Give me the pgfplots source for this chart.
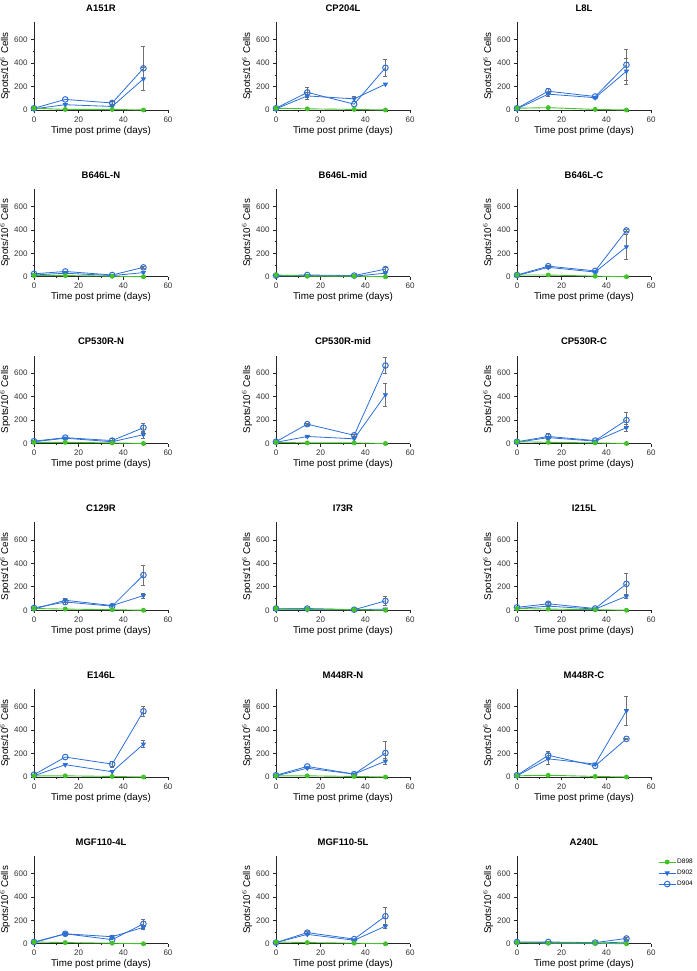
\documentclass[border=0pt]{standalone}
\usepackage{fontspec}
\setmainfont{Liberation Sans}
\usepackage{pgfplots}
\pgfplotsset{compat=1.18}
\definecolor{dgreen}{HTML}{44C12B}
\definecolor{dblue}{HTML}{2C6FD6}
\definecolor{errc}{HTML}{707070}

\pgfplotsset{
  panel/.style={
    scale only axis, width=134pt, height=88pt, anchor=south west,
    xmin=0, xmax=60, ymin=0, ymax=750,
    xtick={0,20,40,60}, ytick={0,200,400,600},
    minor x tick num=1, minor y tick num=1,
    axis lines*=left, axis line style={black!85, line width=0.8pt},
    tick align=outside, major tick length=3pt, minor tick length=1.5pt,
    tick style={black!85, line width=0.6pt},
    ticklabel style={font=\fontsize{8}{9}\selectfont, text=black!80},
    /pgf/number format/assume math mode=true,
    xlabel={Time post prime (days)}, ylabel={Spots/10$^{6}$ Cells},
    label style={font=\fontsize{9.8}{11}\selectfont},
    xlabel style={yshift=3pt}, ylabel style={yshift=-3pt},
    title style={font=\fontsize{9.5}{11}\selectfont\bfseries, yshift=1pt},
    clip=false,
    error bars/y dir=both, error bars/y explicit,
    error bars/error bar style={errc, line width=0.6pt},
    error bars/error mark options={errc, line width=0.6pt, mark size=2pt, rotate=90},
  },
  d898/.style={dgreen, line width=0.9pt, mark=*, mark size=2pt},
  d902/.style={dblue, line width=0.8pt, mark=triangle*, mark size=2.3pt, mark options={rotate=180}},
  d904/.style={dblue, line width=0.8pt, mark=o, mark size=2.8pt, mark options={fill=white, line width=1pt}},
}

% #1 x, #2 y of the axis corner, #3 title, #4 D898, #5 D902, #6 D904
\newcommand{\panel}[6]{%
\begin{axis}[panel, at={(#1pt,-#2pt)}, title={#3}]
\addplot[d904] coordinates {#6};
\addplot[d902] coordinates {#5};
\addplot[d898] coordinates {#4};
\end{axis}}

\begin{document}
\begin{tikzpicture}
\path[use as bounding box] (0,0) rectangle (696pt,-971pt);
% row 1
\panel{34}{110}{A151R}
 {(0,15) (14,5) (35,5) (49,0)}
 {(0,10) (14,45) (35,30) (49,265) +- (0,95)}
 {(0,15) (14,90) (35,60) +- (0,15) (49,355) +- (0,185)}
\panel{276}{110}{CP204L}
 {(0,15) (14,10) (35,5) (49,0)}
 {(0,10) (14,120) +- (0,30) (35,95) +- (0,25) (49,220)}
 {(0,15) (14,150) +- (0,45) (35,50) (49,360) +- (0,70)}
\panel{517}{110}{L8L}
 {(0,15) (14,20) (35,5) (49,0)}
 {(0,10) (14,135) +- (0,20) (35,105) (49,330) +- (0,110)}
 {(0,15) (14,160) +- (0,25) (35,115) (49,385) +- (0,130)}
% row 2
\panel{34}{276.75}{B646L-N}
 {(0,10) (14,10) (35,5) (49,0)}
 {(0,15) (14,30) (35,10) (49,35)}
 {(0,25) (14,45) (35,15) (49,80) +- (0,10)}
\panel{276}{276.75}{B646L-mid}
 {(0,15) (14,5) (35,5) (49,0)}
 {(0,5) (14,10) (35,5) (49,30)}
 {(0,10) (14,15) (35,10) (49,65) +- (0,15)}
\panel{517}{276.75}{B646L-C}
 {(0,15) (14,15) (35,5) (49,0)}
 {(0,10) (14,80) (35,40) (49,255) +- (0,105)}
 {(0,15) (14,90) +- (0,10) (35,50) (49,395) +- (0,10)}
% row 3
\panel{34}{443.5}{CP530R-N}
 {(0,10) (14,10) (35,5) (49,0)}
 {(0,15) (14,45) (35,15) (49,75) +- (0,30)}
 {(0,20) (14,50) (35,25) +- (0,20) (49,135) +- (0,40)}
\panel{276}{443.5}{CP530R-mid}
 {(0,10) (14,5) (35,5) (49,0)}
 {(0,10) (14,60) +- (0,10) (35,40) (49,415) +- (0,100)}
 {(0,15) (14,165) +- (0,10) (35,70) +- (0,10) (49,665) +- (0,70)}
\panel{517}{443.5}{CP530R-C}
 {(0,15) (14,10) (35,5) (49,0)}
 {(0,10) (14,50) (35,20) (49,135) +- (0,30)}
 {(0,15) (14,60) +- (0,25) (35,25) (49,200) +- (0,65)}
% row 4
\panel{34}{610.25}{C129R}
 {(0,15) (14,10) (35,5) (49,0)}
 {(0,10) (14,85) +- (0,15) (35,40) (49,125) +- (0,20)}
 {(0,20) (14,70) +- (0,15) (35,35) (49,300) +- (0,85)}
\panel{276}{610.25}{I73R}
 {(0,15) (14,10) (35,5) (49,0)}
 {(0,5) (14,5) (35,5) (49,10)}
 {(0,15) (14,15) +- (0,10) (35,5) (49,80) +- (0,40)}
\panel{517}{610.25}{I215L}
 {(0,15) (14,10) (35,5) (49,0)}
 {(0,15) (14,35) (35,10) (49,120) +- (0,20)}
 {(0,25) (14,55) +- (0,15) (35,15) (49,225) +- (0,90)}
% row 5
\panel{34}{777}{E146L}
 {(0,10) (14,10) (35,5) (49,0)}
 {(0,10) (14,105) (35,45) (49,280) +- (0,30)}
 {(0,20) (14,170) (35,110) +- (0,25) (49,560) +- (0,45)}
\panel{276}{777}{M448R-N}
 {(0,10) (14,10) (35,5) (49,0)}
 {(0,10) (14,75) (35,25) (49,135) +- (0,25)}
 {(0,15) (14,90) (35,25) (49,205) +- (0,100)}
\panel{517}{777}{M448R-C}
 {(0,10) (14,15) (35,5) (49,0)}
 {(0,10) (14,155) +- (0,45) (35,110) (49,565) +- (0,125)}
 {(0,15) (14,185) +- (0,35) (35,95) (49,325) +- (0,5)}
% row 6
\panel{34}{943.75}{MGF110-4L}
 {(0,15) (14,10) (35,5) (49,0)}
 {(0,10) (14,85) (35,60) +- (0,15) (49,140) +- (0,20)}
 {(0,15) (14,85) +- (0,15) (35,35) (49,170) +- (0,40)}
\panel{276}{943.75}{MGF110-5L}
 {(0,15) (14,10) (35,5) (49,0)}
 {(0,10) (14,80) (35,30) (49,150) +- (0,15)}
 {(0,10) (14,95) +- (0,15) (35,40) (49,235) +- (0,80)}
\begin{axis}[panel, at={(517pt,-943.75pt)}, title={A240L}, reverse legend,
  legend style={at={(1.03,1.0)}, anchor=north west, draw=none, fill=none,
    font=\fontsize{6.5}{8}\selectfont, row sep=3pt,
    nodes={inner sep=1pt}},
  legend cell align=left]
\addplot[d904] coordinates {(0,15) (14,15) (35,10) (49,45) +- (0,10)};
\addlegendentry{D904}
\addplot[d902] coordinates {(0,10) (14,10) (35,5) (49,15)};
\addlegendentry{D902}
\addplot[d898] coordinates {(0,10) (14,5) (35,5) (49,0)};
\addlegendentry{D898}
\end{axis}
\end{tikzpicture}
\end{document}
